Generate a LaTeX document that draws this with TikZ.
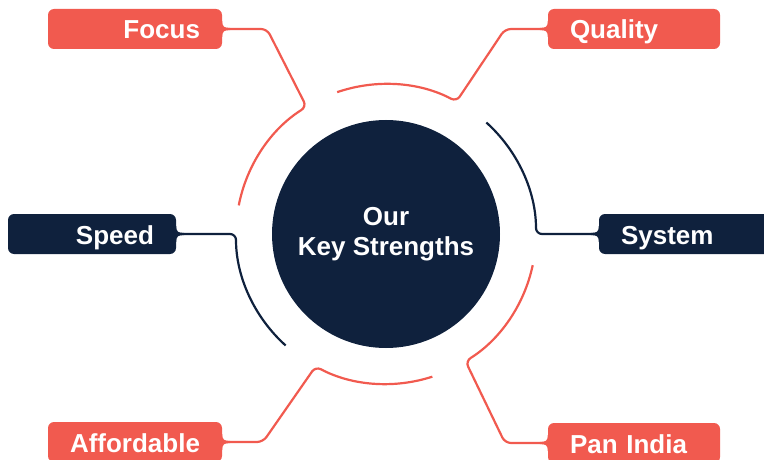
\documentclass[tikz,border=0pt]{standalone}
\usepackage{fontspec}
\setmainfont{Liberation Sans}

\definecolor{coral}{HTML}{F15A4F}
\definecolor{navy}{HTML}{0F213D}

\tikzset{
	tag/.style = {rounded corners = 6, minimum height = 40, inner ysep = 0, inner xsep = 22, text height = 20, text depth = 0, text = white, font = \bfseries\fontsize{26}{30}\selectfont},
	link/.style = {line width = 2.2, rounded corners = 6}
}

% Small flare where a link meets its tag
\newcommand{\fillet}[3]{\fill [#3, shift = {(#1)}, xscale = #2] (0, 8) .. controls (0, 2) and (2, 1.1) .. (8, 1.1) -- (8, -1.1) .. controls (2, -1.1) and (0, -2) .. (0, -8) -- cycle;}

\begin{document}
\begin{tikzpicture}[x = 1pt, y = 1pt]

	% Definitions
	
	\def\R{150}		% Ring radius
	
	\useasboundingbox (0, 0) rectangle (764, 459);
	
	% Hub
	
	\node [circle, fill = navy, minimum size = 228, inner sep = 0, text = white, align = center, font = \bfseries\fontsize{26}{30}\selectfont] (hub) at (386, 225) {Our\\Key Strengths};
	
	% Tags
	
	\node [tag, fill = coral, text width = 130, align = right] (focus) at (135, 430) {Focus};
	\node [tag, fill = coral, text width = 128, align = left] (quality) at (634, 430) {Quality};
	\node [tag, fill = navy, text width = 124, align = right] (speed) at (92, 225) {Speed};
	\node [tag, fill = navy, text width = 136, align = left] (system) at (689, 225) {System};
	\node [tag, fill = coral, text width = 130, align = right] (affordable) at (135, 17) {Affordable};
	\node [tag, fill = coral, text width = 128, align = left] (panindia) at (634, 16) {Pan India};
	
	% Links round the ring
	
	\draw [link, coral] (focus.east) -- (267, 430) -- ([shift = {(122 : \R)}] hub.center) arc [start angle = 122, end angle = 169, radius = \R];
	\draw [link, coral] (quality.west) -- (505, 430) -- ([shift = {(62 : \R)}] hub.center) arc [start angle = 62, end angle = 109, radius = \R];
	\draw [link, navy] (speed.east) -- ([shift = {(180 : \R)}] hub.center) arc [start angle = 180, end angle = 228, radius = \R];
	\draw [link, navy] (system.west) -- ([shift = {(0 : \R)}] hub.center) arc [start angle = 0, end angle = 48, radius = \R];
	\draw [link, coral] (affordable.east) -- (263, 17) -- ([shift = {(-118 : \R)}] hub.center) arc [start angle = -118, end angle = -72, radius = \R];
	\draw [link, coral] (panindia.west) -- (505, 16) -- ([shift = {(-58 : \R)}] hub.center) arc [start angle = -58, end angle = -12, radius = \R];
	
	% Flares
	
	\fillet{focus.east}{1}{coral}
	\fillet{quality.west}{-1}{coral}
	\fillet{speed.east}{1}{navy}
	\fillet{system.west}{-1}{navy}
	\fillet{affordable.east}{1}{coral}
	\fillet{panindia.west}{-1}{coral}

\end{tikzpicture}
\end{document}
